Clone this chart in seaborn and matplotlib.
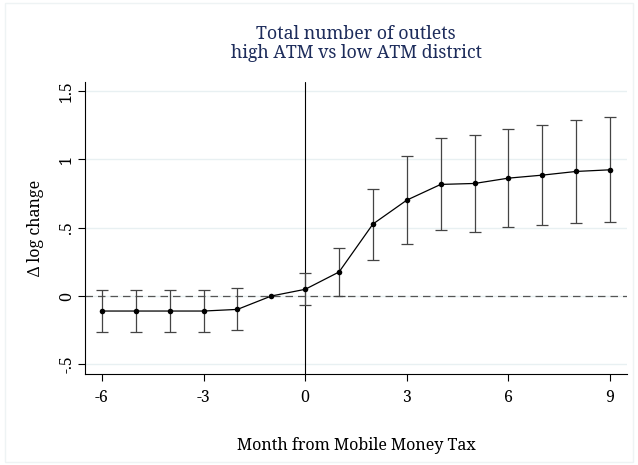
import matplotlib
matplotlib.use("Agg")
import matplotlib.pyplot as plt
import seaborn as sns
import pandas as pd
from matplotlib.patches import Rectangle

# Event-study estimates: months relative to the mobile money tax
months = [-6, -5, -4, -3, -2, -1, 0, 1, 2, 3, 4, 5, 6, 7, 8, 9]
coef = [-0.110, -0.110, -0.110, -0.110, -0.098, 0.000, 0.049, 0.176,
        0.527, 0.702, 0.817, 0.824, 0.863, 0.885, 0.912, 0.924]
ci_low = [-0.263, -0.263, -0.263, -0.263, -0.249, 0.000, -0.066, 0.000,
          0.266, 0.380, 0.483, 0.471, 0.502, 0.517, 0.534, 0.539]
ci_high = [0.041, 0.041, 0.041, 0.041, 0.056, 0.000, 0.166, 0.349,
           0.783, 1.027, 1.154, 1.176, 1.222, 1.249, 1.288, 1.310]

x_ticks = [-6, -3, 0, 3, 6, 9]
y_ticks = [-0.5, 0, 0.5, 1, 1.5]
y_tick_labels = ["-.5", "0", ".5", "1", "1.5"]

df = pd.DataFrame({"month": months, "coef": coef, "lo": ci_low, "hi": ci_high})

sns.set_theme(style="white")
plt.rcParams["font.family"] = ["Noto Serif", "DejaVu Serif"]

fig = plt.figure(figsize=(6.38, 4.65), dpi=100)
ax = fig.add_axes([0.1332, 0.1957, 0.8496, 0.628])

# faint outer frame around the graph region
fig.patches.append(Rectangle((0.008, 0.006), 0.984, 0.988, transform=fig.transFigure,
                             fill=False, edgecolor="#eef3f4", linewidth=1.0))

for yt in y_ticks:
    ax.axhline(yt, color="#e8f0f2", linewidth=1.0, zorder=0)

ax.axhline(0, color="#555555", linewidth=0.9, linestyle=(0, (6, 4)), zorder=1)
ax.axvline(0, color="black", linewidth=0.8, zorder=1)

# confidence intervals (skip the omitted reference month)
ci = df[df["month"] != -1]
ax.errorbar(ci["month"], ci["coef"],
            yerr=[ci["coef"] - ci["lo"], ci["hi"] - ci["coef"]],
            fmt="none", ecolor="#444444", elinewidth=0.9, capsize=4, capthick=0.9,
            zorder=2)

sns.lineplot(data=df, x="month", y="coef", ax=ax, color="black", linewidth=0.9,
             marker="o", markersize=4, markeredgewidth=0, zorder=3)

ax.set_xlim(-6.5, 9.5)
ax.set_ylim(-0.571, 1.567)
ax.set_xticks(x_ticks)
ax.set_xticklabels([str(t) for t in x_ticks])
ax.set_yticks(y_ticks)
ax.set_yticklabels(y_tick_labels, rotation=90, va="center")

for side in ["top", "right"]:
    ax.spines[side].set_visible(False)
for side in ["left", "bottom"]:
    ax.spines[side].set_color("black")
    ax.spines[side].set_linewidth(0.8)

ax.tick_params(axis="both", direction="out", length=5, width=0.8, color="black",
               labelsize=11.5, labelcolor="black", left=True, bottom=True)
ax.tick_params(axis="x", pad=6)
ax.tick_params(axis="y", pad=2)

ax.set_xlabel("Month from Mobile Money Tax", fontsize=11.6, color="black", labelpad=22)
ax.set_ylabel("Δ log change", fontsize=11.6, color="black", labelpad=10)
ax.set_title("Total number of outlets\nhigh ATM vs low ATM district",
             fontsize=12.8, color="#1e2d5c", pad=17, linespacing=1.1)

fig.savefig("out.png", dpi=100)
